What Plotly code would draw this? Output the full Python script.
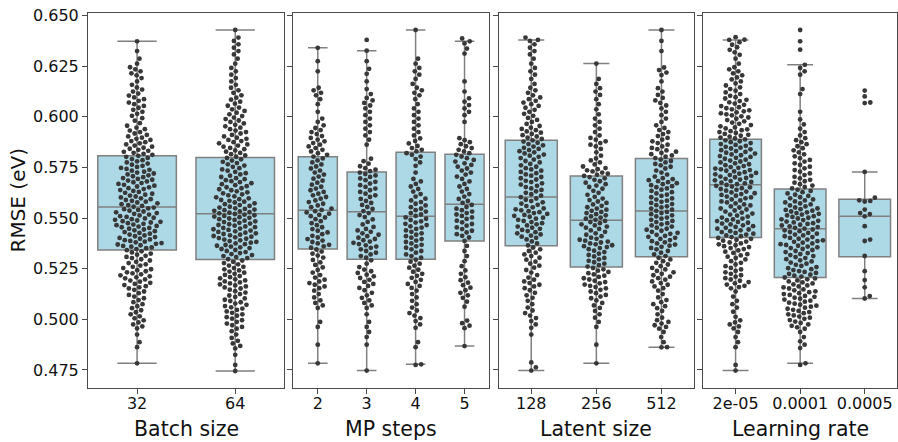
import plotly.graph_objects as go

# ---------------------------------------------------------------------------
# Data: box statistics per category and run counts per 0.005-eV RMSE bin
# (dict key = lower edge of the bin). Whisker ends are themselves runs and
# are added to the swarm; "extra" holds individual runs listed by value.
# ---------------------------------------------------------------------------
BIN_WIDTH = 0.005

batch_labels = ["32", "64"]
batch_q1 = [0.5342, 0.5296]
batch_med = [0.5555, 0.5522]
batch_q3 = [0.5808, 0.5799]
batch_lo = [0.4783, 0.4745]
batch_hi = [0.6373, 0.6429]
batch_counts = [
    {0.630: 1, 0.625: 2, 0.620: 5, 0.615: 3, 0.610: 5, 0.605: 6, 0.600: 5,
     0.595: 4, 0.590: 7, 0.585: 9, 0.580: 10, 0.575: 9, 0.570: 11, 0.565: 12,
     0.560: 11, 0.555: 12, 0.550: 13, 0.545: 15, 0.540: 12, 0.535: 14,
     0.530: 9, 0.525: 8, 0.520: 10, 0.515: 9, 0.510: 6, 0.505: 5, 0.500: 5,
     0.495: 5, 0.490: 1, 0.485: 2},
    {0.635: 3, 0.630: 3, 0.625: 2, 0.620: 3, 0.615: 3, 0.610: 4, 0.605: 5,
     0.600: 6, 0.595: 7, 0.590: 7, 0.585: 9, 0.580: 8, 0.575: 8, 0.570: 8,
     0.565: 10, 0.560: 10, 0.555: 12, 0.550: 16, 0.545: 14, 0.540: 15,
     0.535: 13, 0.530: 10, 0.525: 8, 0.520: 9, 0.515: 10, 0.510: 7,
     0.505: 8, 0.500: 7, 0.495: 6, 0.490: 3, 0.485: 4, 0.480: 1, 0.475: 1},
]
batch_extra = [[], []]

mp_labels = ["2", "3", "4", "5"]
mp_q1 = [0.5347, 0.5297, 0.5297, 0.5387]
mp_med = [0.5539, 0.5532, 0.5509, 0.5568]
mp_q3 = [0.5803, 0.5728, 0.5825, 0.5815]
mp_lo = [0.4783, 0.4747, 0.4778, 0.4868]
mp_hi = [0.6341, 0.6327, 0.6429, 0.6373]
mp_counts = [
    {0.625: 1, 0.620: 1, 0.610: 4, 0.605: 2, 0.600: 1, 0.595: 3, 0.590: 5,
     0.585: 6, 0.580: 6, 0.575: 5, 0.570: 5, 0.565: 5, 0.560: 6, 0.555: 6,
     0.550: 8, 0.545: 5, 0.540: 6, 0.535: 7, 0.530: 5, 0.525: 4, 0.520: 4,
     0.515: 6, 0.510: 3, 0.505: 4, 0.495: 2, 0.485: 1},
    {0.625: 1, 0.620: 2, 0.615: 1, 0.610: 2, 0.605: 4, 0.600: 3, 0.595: 3,
     0.590: 3, 0.585: 2, 0.575: 4, 0.570: 7, 0.565: 6, 0.560: 6, 0.555: 5,
     0.550: 5, 0.545: 4, 0.540: 7, 0.535: 8, 0.530: 6, 0.525: 3, 0.520: 6,
     0.515: 5, 0.510: 4, 0.505: 4, 0.500: 1, 0.495: 2, 0.490: 2, 0.485: 1},
    {0.625: 2, 0.620: 3, 0.615: 2, 0.610: 4, 0.605: 2, 0.600: 3, 0.595: 3,
     0.590: 3, 0.585: 4, 0.580: 6, 0.575: 3, 0.570: 1, 0.565: 4, 0.560: 4,
     0.555: 6, 0.550: 7, 0.545: 8, 0.540: 7, 0.535: 7, 0.530: 6, 0.525: 5,
     0.520: 5, 0.515: 5, 0.510: 3, 0.505: 3, 0.500: 4, 0.495: 3, 0.485: 2,
     0.475: 1},
    {0.635: 2, 0.630: 2, 0.615: 1, 0.610: 1, 0.605: 3, 0.600: 3, 0.595: 1,
     0.585: 5, 0.580: 6, 0.575: 6, 0.570: 5, 0.565: 4, 0.560: 4, 0.555: 5,
     0.550: 7, 0.545: 6, 0.540: 6, 0.535: 2, 0.530: 2, 0.525: 2, 0.520: 3,
     0.515: 4, 0.510: 4, 0.505: 2, 0.495: 4},
]
mp_extra = [[], [0.6380], [], []]

latent_labels = ["128", "256", "512"]
latent_q1 = [0.5363, 0.5258, 0.5309]
latent_med = [0.5604, 0.5489, 0.5535]
latent_q3 = [0.5884, 0.5708, 0.5795]
latent_lo = [0.4747, 0.4783, 0.4862]
latent_hi = [0.6380, 0.6263, 0.6429]
latent_counts = [
    {0.635: 3, 0.630: 3, 0.625: 2, 0.620: 3, 0.615: 2, 0.610: 4, 0.605: 6,
     0.600: 5, 0.595: 5, 0.590: 8, 0.585: 8, 0.580: 9, 0.575: 7, 0.570: 8,
     0.565: 8, 0.560: 7, 0.555: 8, 0.550: 11, 0.545: 9, 0.540: 9, 0.535: 5,
     0.530: 6, 0.525: 5, 0.520: 4, 0.515: 6, 0.510: 4, 0.505: 3, 0.500: 4,
     0.495: 3, 0.490: 1, 0.475: 2},
    {0.615: 2, 0.610: 3, 0.605: 2, 0.600: 2, 0.595: 3, 0.590: 3, 0.585: 6,
     0.580: 3, 0.575: 5, 0.570: 9, 0.565: 7, 0.560: 5, 0.555: 7, 0.550: 9,
     0.545: 9, 0.540: 7, 0.535: 11, 0.530: 7, 0.525: 7, 0.520: 8, 0.515: 8,
     0.510: 6, 0.505: 4, 0.500: 3, 0.495: 2, 0.485: 1},
    {0.635: 1, 0.630: 1, 0.620: 4, 0.615: 1, 0.610: 3, 0.605: 4, 0.600: 3,
     0.595: 3, 0.590: 5, 0.585: 6, 0.580: 8, 0.575: 7, 0.570: 5, 0.565: 10,
     0.560: 8, 0.555: 9, 0.550: 9, 0.545: 9, 0.540: 10, 0.535: 9, 0.530: 6,
     0.525: 6, 0.520: 7, 0.515: 6, 0.510: 3, 0.505: 5, 0.500: 3, 0.495: 6,
     0.490: 2, 0.485: 2},
]
latent_extra = [[], [], []]

lr_labels = ["2e-05", "0.0001", "0.0005"]
lr_q1 = [0.5404, 0.5207, 0.5309]
lr_med = [0.5665, 0.5448, 0.5509]
lr_q3 = [0.5890, 0.5644, 0.5593]
lr_lo = [0.4747, 0.4783, 0.5103]
lr_hi = [0.6380, 0.6257, 0.5728]
lr_counts = [
    {0.635: 4, 0.630: 4, 0.625: 2, 0.620: 5, 0.615: 5, 0.610: 6, 0.605: 8,
     0.600: 10, 0.595: 8, 0.590: 11, 0.585: 11, 0.580: 12, 0.575: 11,
     0.570: 14, 0.565: 13, 0.560: 12, 0.555: 10, 0.550: 10, 0.545: 12,
     0.540: 12, 0.535: 11, 0.530: 8, 0.525: 6, 0.520: 7, 0.515: 8, 0.510: 2,
     0.505: 3, 0.500: 2, 0.495: 5, 0.490: 2, 0.485: 2, 0.475: 1},
    {0.620: 3, 0.610: 2, 0.600: 1, 0.595: 2, 0.590: 3, 0.585: 5, 0.580: 5,
     0.575: 6, 0.570: 6, 0.565: 7, 0.560: 8, 0.555: 10, 0.550: 13, 0.545: 13,
     0.540: 12, 0.535: 13, 0.530: 10, 0.525: 9, 0.520: 11, 0.515: 10,
     0.510: 11, 0.505: 10, 0.500: 9, 0.495: 7, 0.490: 2, 0.485: 3, 0.475: 1},
    {},
]
lr_extra = [
    [],
    [0.6429, 0.6373, 0.6332],
    [0.6130, 0.6101, 0.6071, 0.6068, 0.5601, 0.5588, 0.5585, 0.5582, 0.5542,
     0.5525, 0.5520, 0.5509, 0.5460, 0.5394, 0.5387, 0.5313, 0.5238, 0.5194,
     0.5158, 0.5115],
]

panel_titles = ["Batch size", "MP steps", "Latent size", "Learning rate"]
panels = [
    (batch_labels, batch_q1, batch_med, batch_q3, batch_lo, batch_hi, batch_counts, batch_extra),
    (mp_labels, mp_q1, mp_med, mp_q3, mp_lo, mp_hi, mp_counts, mp_extra),
    (latent_labels, latent_q1, latent_med, latent_q3, latent_lo, latent_hi, latent_counts, latent_extra),
    (lr_labels, lr_q1, lr_med, lr_q3, lr_lo, lr_hi, lr_counts, lr_extra),
]

# ---------------------------------------------------------------------------
# Layout geometry (pixels)
# ---------------------------------------------------------------------------
W, H = 898, 442
M_L, M_R, M_T, M_B = 88, 1, 13, 54
plot_w = W - M_L - M_R
plot_h = H - M_T - M_B
panel_px = [(88.0, 284.3), (293.3, 489.0), (498.7, 694.0), (703.3, 897.0)]
domains = [((a - M_L) / plot_w, (b - M_L) / plot_w) for a, b in panel_px]

Y_RANGE = [0.4661, 0.6513]
px_per_y = plot_h / (Y_RANGE[1] - Y_RANGE[0])

DOT = 4.8          # marker diameter (px)
DOT_GAP = 5.6      # minimum centre distance in the swarm (px)
DOT_COLOR = "#383838"
BOX_FILL = "#add8e6"
BOX_EDGE = "#808080"
AXIS_COLOR = "#4a4a4a"
FONT = "DejaVu Sans"


def expand_bins(counts):
    vals = []
    for lo, n in counts.items():
        for i in range(n):
            vals.append(lo + (i + 0.5) * BIN_WIDTH / n)
    return vals


def swarm_offsets(values, gap):
    """Beeswarm: place points in value order, as close to the centre as possible."""
    placed = []
    out = []
    for v in sorted(values):
        y = v * px_per_y
        near = [(px, py) for px, py in placed if abs(py - y) < gap]
        cands = [0.0]
        for px, py in near:
            dx = (gap * gap - (py - y) ** 2) ** 0.5
            cands += [px + dx, px - dx]
        cands.sort(key=lambda c: (abs(c), c < 0))
        chosen = cands[-1]
        for c in cands:
            if all((c - px) ** 2 + (y - py) ** 2 >= gap * gap - 1e-6 for px, py in near):
                chosen = c
                break
        placed.append((chosen, y))
        out.append((chosen, v))
    return out


fig = go.Figure()
tickvals_y = [0.475, 0.500, 0.525, 0.550, 0.575, 0.600, 0.625, 0.650]

for p, (labels, q1, med, q3, lo, hi, counts, extra) in enumerate(panels):
    sfx = "" if p == 0 else str(p + 1)
    xa, ya = "x" + sfx, "y" + sfx
    n = len(labels)
    pos = list(range(n))

    fig.add_trace(go.Box(
        x=pos, q1=q1, median=med, q3=q3, lowerfence=lo, upperfence=hi,
        width=0.8, whiskerwidth=0.5, boxpoints=False,
        fillcolor=BOX_FILL, line=dict(color=BOX_EDGE, width=1.5),
        xaxis=xa, yaxis=ya, showlegend=False, hoverinfo="skip",
    ))

    px_per_x = (panel_px[p][1] - panel_px[p][0]) / n
    sx, sy = [], []
    for k in range(n):
        vals = expand_bins(counts[k]) + list(extra[k]) + [lo[k], hi[k]]
        for off, v in swarm_offsets(vals, DOT_GAP):
            sx.append(pos[k] + off / px_per_x)
            sy.append(v)
    fig.add_trace(go.Scatter(
        x=sx, y=sy, mode="markers",
        marker=dict(size=DOT, color=DOT_COLOR, line=dict(width=0)),
        xaxis=xa, yaxis=ya, showlegend=False, hoverinfo="skip",
    ))

    fig.layout["xaxis" + sfx] = dict(
        domain=list(domains[p]), anchor=ya, range=[-0.5, n - 0.5],
        tickvals=pos, ticktext=labels, ticks="outside", ticklen=5,
        ticklabelstandoff=-4,
        tickcolor=AXIS_COLOR, showline=True, linecolor=AXIS_COLOR, linewidth=1,
        mirror=True, showgrid=False, zeroline=False,
        tickfont=dict(family=FONT, size=16, color="#111111"),
    )
    fig.layout["yaxis" + sfx] = dict(
        domain=[0, 1], anchor=xa, range=Y_RANGE,
        tickvals=tickvals_y, tickformat=".3f", showticklabels=(p == 0),
        ticks="outside", ticklen=5, tickcolor=AXIS_COLOR,
        showline=True, linecolor=AXIS_COLOR, linewidth=1, mirror=True,
        showgrid=False, zeroline=False,
        tickfont=dict(family=FONT, size=16, color="#111111"),
    )

    fig.add_annotation(
        text=panel_titles[p], xref="paper", yref="paper",
        x=(domains[p][0] + domains[p][1]) / 2, y=0,
        xanchor="center", yanchor="middle",
        yshift=-41, showarrow=False,
        font=dict(family=FONT, size=20.5, color="#111111"),
    )

fig.add_annotation(
    text="RMSE (eV)", xref="paper", yref="paper", x=0, y=0.5,
    xanchor="center", yanchor="middle", xshift=-71, textangle=-90,
    showarrow=False, font=dict(family=FONT, size=20, color="#111111"),
)

fig.update_layout(
    width=W, height=H,
    margin=dict(l=M_L, r=M_R, t=M_T, b=M_B),
    paper_bgcolor="white", plot_bgcolor="white",
    boxmode="overlay",
)

fig.write_html("out.html")
